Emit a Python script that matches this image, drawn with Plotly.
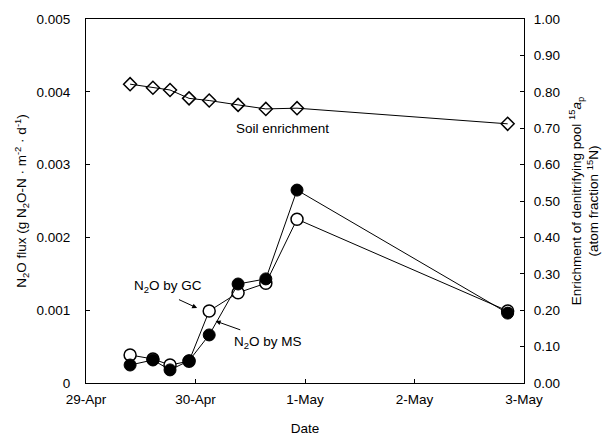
import plotly.graph_objects as go

# Sampling times (date-time)
times = ["1997-04-29 09:40", "1997-04-29 14:40", "1997-04-29 18:25", "1997-04-29 22:35",
         "1997-04-30 03:00", "1997-04-30 09:20", "1997-04-30 15:25", "1997-04-30 22:15",
         "1997-05-02 20:25"]

# N2O flux (g N2O-N m-2 d-1)
n2o_gc = [0.000385, 0.00033, 0.000247, 0.00030, 0.00099, 0.00124, 0.00137, 0.00225, 0.00099]
n2o_ms = [0.000247, 0.000316, 0.00018, 0.000306, 0.00066, 0.00136, 0.00143, 0.00265, 0.00096]

# Soil enrichment (atom fraction 15N)
soil_enrich = [0.821, 0.811, 0.805, 0.782, 0.776, 0.764, 0.753, 0.755, 0.712]

x_tick_vals = ["1997-04-29", "1997-04-30", "1997-05-01", "1997-05-02", "1997-05-03"]
x_tick_text = ["29-Apr", "30-Apr", "1-May", "2-May", "3-May"]
y_left_ticks = [0, 0.001, 0.002, 0.003, 0.004, 0.005]
y_left_text = ["0", "0.001", "0.002", "0.003", "0.004", "0.005"]
y_right_ticks = [0.0, 0.1, 0.2, 0.3, 0.4, 0.5, 0.6, 0.7, 0.8, 0.9, 1.0]

FONT = "Liberation Sans, Arial, sans-serif"
FS = 13.5

fig = go.Figure()
fig.add_trace(go.Scatter(x=times, y=soil_enrich, yaxis="y2", mode="lines+markers",
                         line=dict(color="black", width=1),
                         marker=dict(symbol="diamond-open", size=10, color="black",
                                     line=dict(width=1.5)),
                         showlegend=False))
fig.add_trace(go.Scatter(x=times, y=n2o_gc, mode="lines+markers",
                         line=dict(color="black", width=1),
                         marker=dict(symbol="circle", size=12, color="white",
                                     line=dict(color="black", width=1.5)),
                         showlegend=False))
fig.add_trace(go.Scatter(x=times, y=n2o_ms, mode="lines+markers",
                         line=dict(color="black", width=1),
                         marker=dict(symbol="circle", size=12, color="black",
                                     line=dict(color="black", width=1)),
                         showlegend=False))

fig.update_layout(
    width=614, height=436,
    margin=dict(l=86, r=90, t=19, b=53),
    paper_bgcolor="white", plot_bgcolor="white",
    font=dict(family=FONT, size=FS, color="black"),
    xaxis=dict(type="date", range=["1997-04-29", "1997-05-03"],
               tickvals=x_tick_vals, ticktext=x_tick_text, automargin=False,
               ticks="inside", ticklen=4, tickcolor="black",
               showline=True, linecolor="black", linewidth=1, mirror=True,
               showgrid=False, zeroline=False, ticklabelstandoff=4,
               title=dict(text="Date", font=dict(size=FS), standoff=23)),
    yaxis=dict(range=[0, 0.005], tickvals=y_left_ticks, ticktext=y_left_text,
               ticks="inside", ticklen=4, tickcolor="black", automargin=False,
               showline=True, linecolor="black", linewidth=1,
               showgrid=False, zeroline=False, ticklabelstandoff=12,
               title=dict(text="N<sub>2</sub>O flux (g N<sub>2</sub>O-N · m<sup>-2</sup> · d<sup>-1</sup>)",
                          font=dict(size=FS), standoff=6)),
    yaxis2=dict(range=[0, 1.0], tickvals=y_right_ticks, tickformat=".2f",
                overlaying="y", side="right", automargin=False,
                ticks="inside", ticklen=4, tickcolor="black",
                showline=True, linecolor="black", linewidth=1,
                showgrid=False, zeroline=False, ticklabelstandoff=6,
                title=dict(text="Enrichment of denitrifying pool <sup>15</sup><i>a</i><sub>p</sub><br>(atom fraction <sup>15</sup>N)",
                           font=dict(size=FS), standoff=12)),
    annotations=[
        dict(x="1997-04-30 19:10", y=0.70, xref="x", yref="y2", text="Soil enrichment",
             showarrow=False, font=dict(size=FS)),
        dict(x="1997-04-30 01:45", y=0.00099, xref="x", yref="y", ax=-26, ay=-12,
             text="", showarrow=True, arrowhead=2, arrowsize=1, arrowwidth=1, arrowcolor="black",
             standoff=7),
        dict(x="1997-04-29 18:00", y=0.00133, xref="x", yref="y",
             text="N<sub>2</sub>O by GC", showarrow=False, font=dict(size=FS)),
        dict(x="1997-04-30 04:00", y=0.00086, xref="x", yref="y", ax=28, ay=10,
             text="", showarrow=True, arrowhead=2, arrowsize=1, arrowwidth=1, arrowcolor="black",
             standoff=2),
        dict(x="1997-04-30 15:50", y=0.00056, xref="x", yref="y",
             text="N<sub>2</sub>O by MS", showarrow=False, font=dict(size=FS)),
    ],
)

fig.write_html("out.html")
